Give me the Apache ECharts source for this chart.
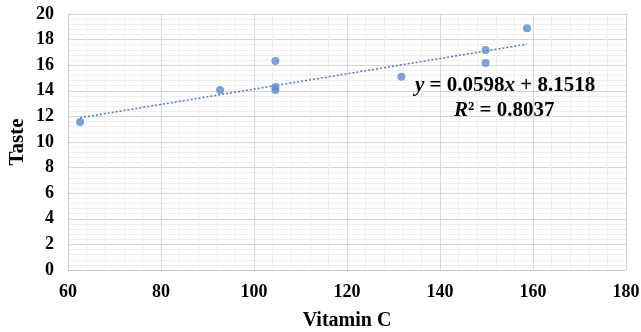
<!DOCTYPE html>
<html>
<head>
<meta charset="utf-8">
<script src="https://cdn.jsdelivr.net/npm/echarts@6/dist/echarts.min.js"></script>
<style>html,body{margin:0;padding:0;background:#fff}#c{width:641px;height:332px}</style>
</head>
<body>
<div id="c"></div>
<script>
const vitaminC = [62.6, 92.7, 104.6, 104.6, 104.6, 131.7, 149.8, 149.8, 158.7];
const taste    = [11.56, 14.06, 16.33, 14.3, 14.06, 15.1, 17.19, 16.17, 18.88];
const slope = 0.0598;
const intercept = 8.1518;
const xTicks = [60, 80, 100, 120, 140, 160, 180];
const yTicks = [0, 2, 4, 6, 8, 10, 12, 14, 16, 18, 20];

const pts = vitaminC.map((v, i) => [v, taste[i]]);
const xMin = Math.min(...vitaminC), xMax = Math.max(...vitaminC);
const trend = [[xMin, slope * xMin + intercept], [xMax, slope * xMax + intercept]];

const font = '"Liberation Serif", "Times New Roman", serif';
const eqRich = {
  n: { fontFamily: font, fontWeight: 'bold', fontSize: 21, fill: '#000', color: '#000' },
  i: { fontFamily: font, fontWeight: 'bold', fontStyle: 'italic', fontSize: 21, fill: '#000', color: '#000' }
};
const chart = echarts.init(document.getElementById('c'));
chart.setOption({
  animation: false,
  grid: { left: 68, right: 15, top: 14, bottom: 62, containLabel: false, outerBoundsMode: 'none' },
  xAxis: {
    type: 'value', min: xTicks[0], max: xTicks[xTicks.length - 1], interval: 20,
    name: 'Vitamin C', nameLocation: 'middle', nameGap: 41,
    nameTextStyle: { fontFamily: font, fontWeight: 'bold', fontSize: 20, color: '#000' },
    axisLine: { show: true, lineStyle: { color: '#c8c8c8' } },
    axisTick: { show: false },
    axisLabel: { fontFamily: font, fontWeight: 'bold', fontSize: 18, color: '#000', margin: 13 },
    splitLine: { show: true, lineStyle: { color: '#d6d6d6' } },
    minorTick: { show: false, splitNumber: 5 },
    minorSplitLine: { show: true, lineStyle: { color: '#efefef' } }
  },
  yAxis: {
    type: 'value', min: yTicks[0], max: yTicks[yTicks.length - 1], interval: 2,
    name: 'Taste', nameLocation: 'middle', nameGap: 40, nameMoveOverlap: false,
    nameTextStyle: { fontFamily: font, fontWeight: 'bold', fontSize: 21, color: '#000' },
    axisLine: { show: true, lineStyle: { color: '#c8c8c8' } },
    axisTick: { show: false },
    axisLabel: { fontFamily: font, fontWeight: 'bold', fontSize: 18, color: '#000', margin: 14 },
    splitLine: { show: true, lineStyle: { color: '#d6d6d6' } },
    minorTick: { show: false, splitNumber: 5 },
    minorSplitLine: { show: true, lineStyle: { color: '#efefef' } }
  },
  series: [
    {
      type: 'line', data: trend, showSymbol: false, symbol: 'none',
      lineStyle: { color: '#4a78c0', width: 1.5, type: [2, 2] }, z: 2
    },
    {
      type: 'scatter', data: pts, symbolSize: 8,
      itemStyle: { color: '#5b8bd0' }, z: 3
    }
  ],
  graphic: [
    {
      type: 'text', left: 415, top: 75, z: 10,
      style: {
        text: '{i|y}{n| = 0.0598}{i|x}{n| + 8.1518}',
        rich: eqRich, fill: '#000'
      }
    },
    {
      type: 'text', left: 454, top: 100, z: 10,
      style: {
        text: '{i|R}{n|² = 0.8037}',
        rich: eqRich, fill: '#000'
      }
    }
  ]
});
</script>
</body>
</html>
